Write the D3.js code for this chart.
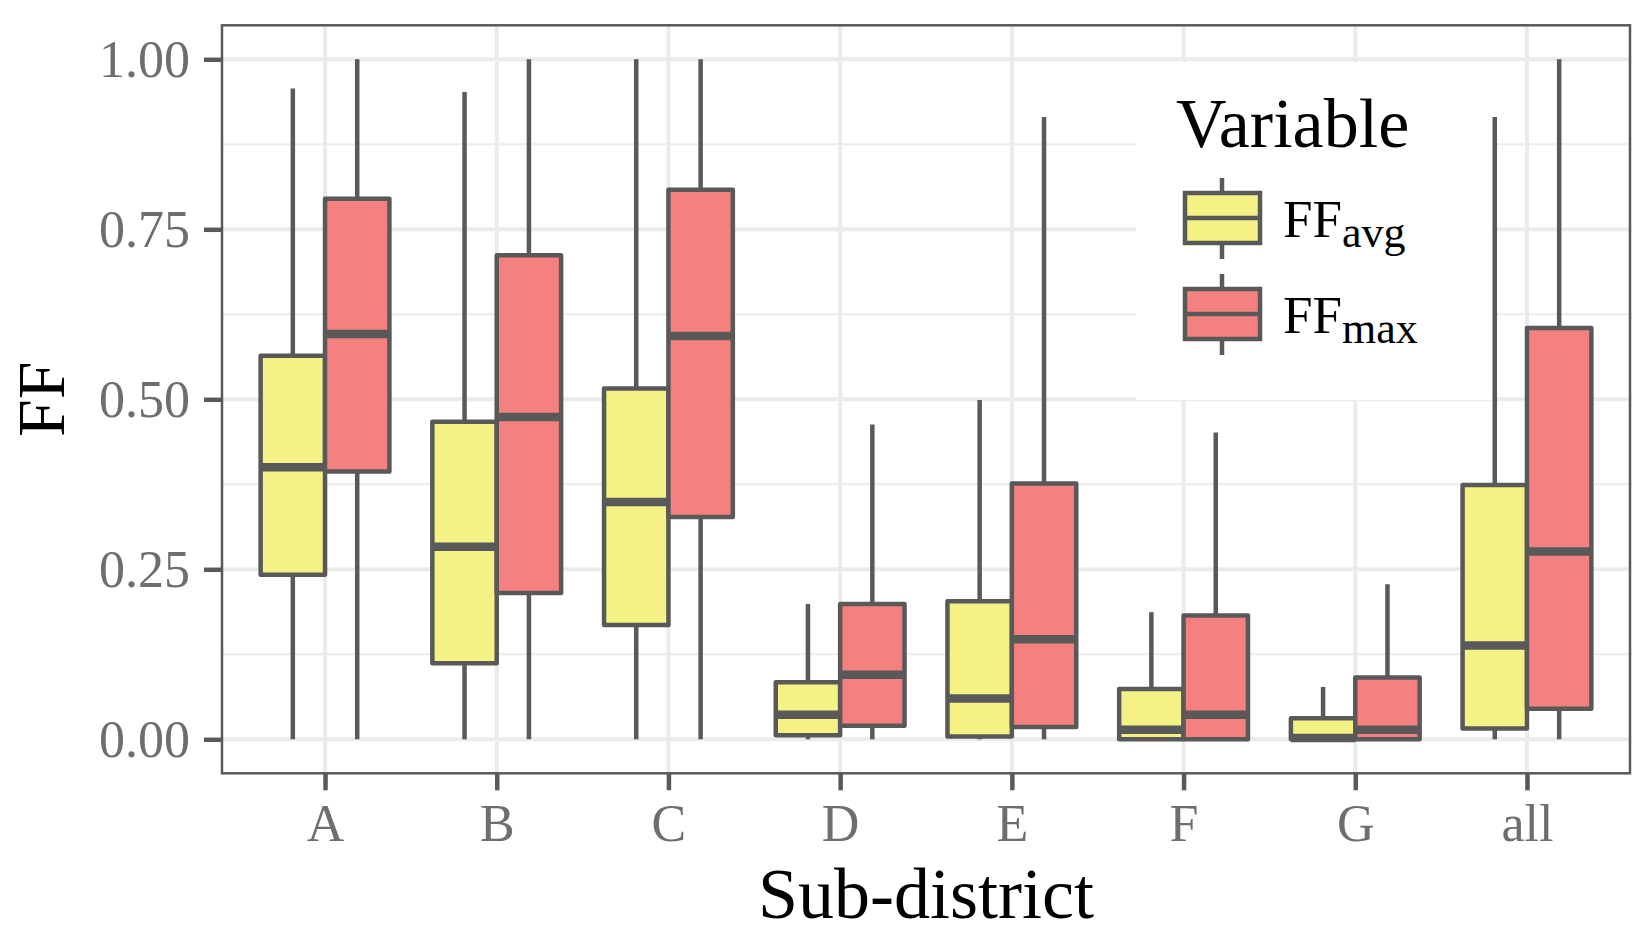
<!DOCTYPE html>
<html>
<head>
<meta charset="utf-8">
<script src="https://cdn.jsdelivr.net/npm/d3@7"></script>
<style>
  body { margin: 0; background: #fff; }
  text { font-family: "Liberation Serif", "DejaVu Serif", serif; }
</style>
</head>
<body>
<div id="viz-container"></div>
<script>
// values (five-number summaries per sub-district)
const categories = ["A", "B", "C", "D", "E", "F", "G", "all"];
const variables = ["avg", "max"];

const avgLow  = [0.00, 0.00, 0.00, 0.00, 0.00, 0.00, 0.00, 0.00];
const avgQ1   = [0.242, 0.112, 0.168, 0.006, 0.004, 0.000, 0.000, 0.016];
const avgMed  = [0.400, 0.283, 0.349, 0.036, 0.060, 0.014, 0.002, 0.138];
const avgQ3   = [0.564, 0.467, 0.516, 0.084, 0.203, 0.074, 0.031, 0.374];
const avgHigh = [0.957, 0.952, 1.000, 0.199, 0.499, 0.187, 0.077, 0.915];

const maxLow  = [0.00, 0.00, 0.00, 0.00, 0.00, 0.00, 0.00, 0.00];
const maxQ1   = [0.394, 0.215, 0.327, 0.020, 0.018, 0.000, 0.000, 0.045];
const maxMed  = [0.596, 0.474, 0.593, 0.095, 0.147, 0.036, 0.014, 0.276];
const maxQ3   = [0.795, 0.712, 0.808, 0.199, 0.376, 0.182, 0.091, 0.605];
const maxHigh = [1.000, 1.000, 1.000, 0.463, 0.915, 0.451, 0.228, 1.000];

const yTicks = [0, 0.25, 0.5, 0.75, 1];
const yMinor = [0.125, 0.375, 0.625, 0.875];

const fills = { avg: "#F5F285", max: "#F48080" };
const ink = "#595959";
const grid = "#EBEBEB";

// build the rows
let rows = [];
categories.forEach(function(c, i){
  rows.push({cat: c, v: "avg", low: avgLow[i], q1: avgQ1[i], med: avgMed[i], q3: avgQ3[i], high: avgHigh[i]});
  rows.push({cat: c, v: "max", low: maxLow[i], q1: maxQ1[i], med: maxMed[i], q3: maxQ3[i], high: maxHigh[i]});
});

let panel = {left: 222, right: 1630, top: 25.3, bottom: 773.3};

let viz = d3.select("#viz-container")
  .append("svg")
    .attr("width", 1651)
    .attr("height", 937);

let x = d3.scalePoint().domain(categories).range([panel.left, panel.right]).padding(0.6);
let dodge = d3.scaleBand().domain(variables)
  .range([-0.375 * x.step(), 0.375 * x.step()]);
let y = d3.scaleLinear().domain([-0.05, 1.05]).range([panel.bottom, panel.top]);

// grid
viz.selectAll(".minor").data(yMinor).enter().append("line")
  .attr("x1", panel.left).attr("x2", panel.right)
  .attr("y1", d => y(d)).attr("y2", d => y(d))
  .attr("stroke", grid).attr("stroke-width", 2);
viz.selectAll(".major").data(yTicks).enter().append("line")
  .attr("x1", panel.left).attr("x2", panel.right)
  .attr("y1", d => y(d)).attr("y2", d => y(d))
  .attr("stroke", grid).attr("stroke-width", 4);
viz.selectAll(".vmajor").data(categories).enter().append("line")
  .attr("x1", d => x(d)).attr("x2", d => x(d))
  .attr("y1", panel.top).attr("y2", panel.bottom)
  .attr("stroke", grid).attr("stroke-width", 4);

// boxes
function cx(d){ return x(d.cat) + dodge(d.v) + dodge.bandwidth() / 2; }

let boxes = viz.selectAll(".box").data(rows).enter().append("g").attr("class", "box");
boxes.append("line")
  .attr("x1", cx).attr("x2", cx)
  .attr("y1", d => y(d.high)).attr("y2", d => y(d.q3))
  .attr("stroke", ink).attr("stroke-width", 4.5);
boxes.append("line")
  .attr("x1", cx).attr("x2", cx)
  .attr("y1", d => y(d.q1)).attr("y2", d => y(d.low))
  .attr("stroke", ink).attr("stroke-width", 4.5);
boxes.append("rect")
  .attr("x", d => x(d.cat) + dodge(d.v))
  .attr("width", dodge.bandwidth())
  .attr("y", d => y(d.q3))
  .attr("height", d => y(d.q1) - y(d.q3))
  .attr("fill", d => fills[d.v])
  .attr("stroke", ink).attr("stroke-width", 4.5)
  .attr("stroke-linejoin", "round");
boxes.append("line")
  .attr("x1", d => x(d.cat) + dodge(d.v)).attr("x2", d => x(d.cat) + dodge(d.v) + dodge.bandwidth())
  .attr("y1", d => y(d.med)).attr("y2", d => y(d.med))
  .attr("stroke", ink).attr("stroke-width", 8.5);

// panel border
viz.append("rect")
  .attr("x", panel.left).attr("y", panel.top)
  .attr("width", panel.right - panel.left).attr("height", panel.bottom - panel.top)
  .attr("fill", "none").attr("stroke", ink).attr("stroke-width", 2.5);

// axes
let yAxis = viz.append("g")
  .attr("transform", "translate(" + panel.left + ",0)")
  .call(d3.axisLeft(y).tickValues(yTicks).tickFormat(d3.format(".2f")).tickSize(18).tickPadding(14));
let xAxis = viz.append("g")
  .attr("transform", "translate(0," + panel.bottom + ")")
  .call(d3.axisBottom(x).tickSize(17).tickPadding(14));

[yAxis, xAxis].forEach(function(ax){
  ax.select(".domain").remove();
  ax.selectAll(".tick line").attr("stroke", ink).attr("stroke-width", 4.5);
  ax.selectAll(".tick text")
    .attr("fill", "#6E6E6E")
    .style("font-family", "'Liberation Serif', serif")
    .style("font-size", "52px");
});
yAxis.selectAll(".tick text").attr("dy", "0.33em");
xAxis.selectAll(".tick text").attr("dy", "0.71em");

// axis titles
viz.append("text")
  .attr("x", (panel.left + panel.right) / 2).attr("y", 918)
  .attr("text-anchor", "middle")
  .style("font-size", "72px")
  .text("Sub-district");
viz.append("text")
  .attr("transform", "translate(64," + y(0.5) + ") rotate(-90)")
  .attr("text-anchor", "middle")
  .style("font-size", "68px")
  .text("FF");

// legend
let legend = viz.append("g").attr("transform", "translate(1136,62)");
legend.append("rect")
  .attr("width", 356).attr("height", 338).attr("fill", "#fff");
legend.append("text")
  .attr("x", 40).attr("y", 85)
  .style("font-size", "70px")
  .text("Variable");

let keys = legend.selectAll(".key").data(variables).enter().append("g")
  .attr("transform", (d, i) => "translate(0," + (i * 96) + ")");
keys.append("line")
  .attr("x1", 86).attr("x2", 86).attr("y1", 116).attr("y2", 197)
  .attr("stroke", ink).attr("stroke-width", 4.5);
keys.append("rect")
  .attr("x", 49).attr("y", 131).attr("width", 75).attr("height", 50)
  .attr("fill", d => fills[d]).attr("stroke", ink).attr("stroke-width", 4.5);
keys.append("line")
  .attr("x1", 49).attr("x2", 124).attr("y1", 156).attr("y2", 156)
  .attr("stroke", ink).attr("stroke-width", 4.5);
let lab = keys.append("text")
  .attr("x", 147).attr("y", 175)
  .style("font-size", "53px");
lab.append("tspan").text("FF");
lab.append("tspan")
  .attr("dy", 10)
  .style("font-size", "44px")
  .text(d => d);
</script>
</body>
</html>
